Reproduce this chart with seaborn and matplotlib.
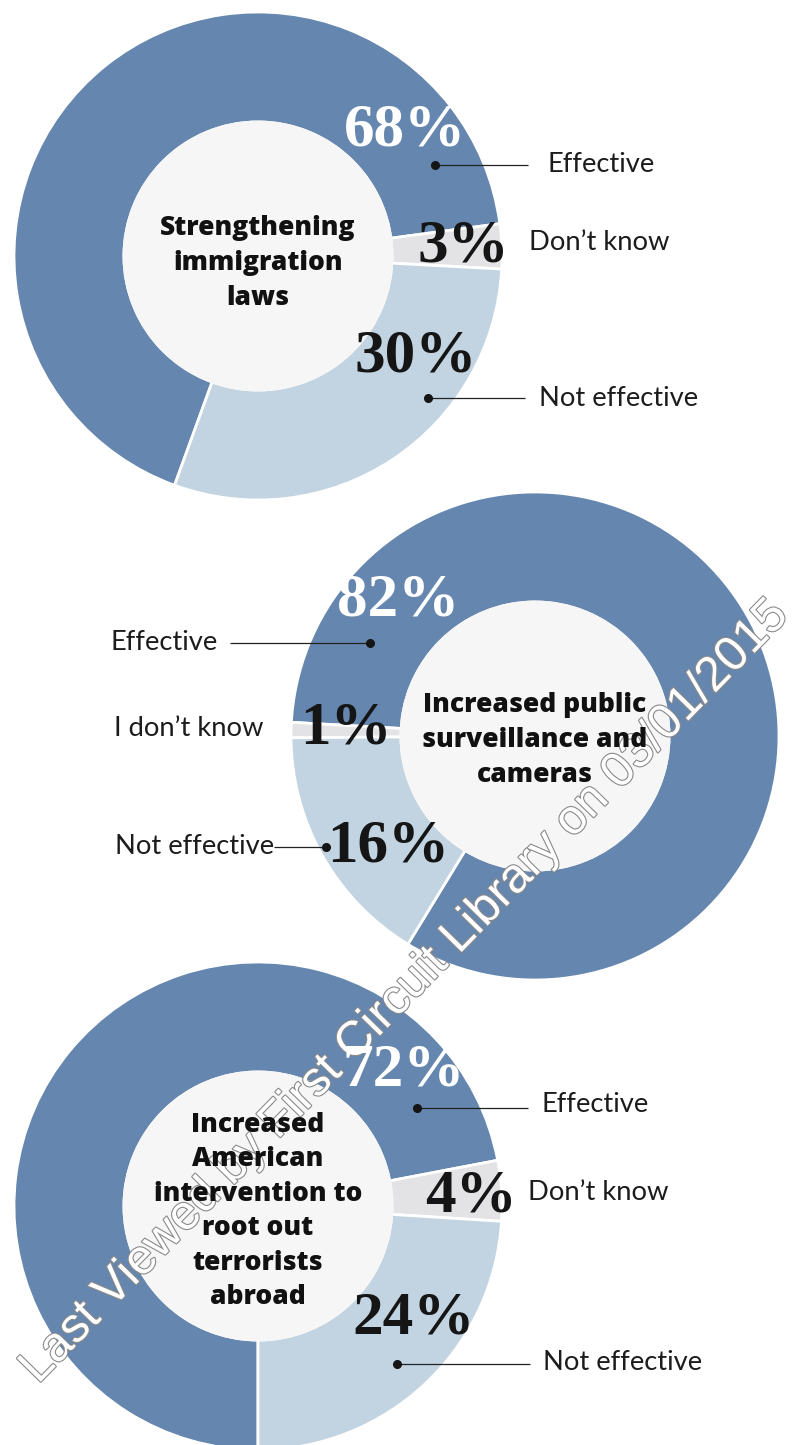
import matplotlib
matplotlib.use("Agg")
import matplotlib.pyplot as plt
import matplotlib.patheffects as pe
from matplotlib.patches import Circle
import seaborn as sns

# ---- survey data -------------------------------------------------------
categories = ["Effective", "Don't know", "Not effective"]
immigration = [68, 3, 30]
surveillance = [82, 1, 16]
intervention = [72, 4, 24]

titles = [
    "Strengthening\nimmigration\nlaws",
    "Increased public\nsurveillance and\ncameras",
    "Increased\nAmerican\nintervention to\nroot out\nterrorists\nabroad",
]
side_labels = [
    ["Effective", "Don\u2019t know", "Not effective"],
    ["Effective", "I don\u2019t know", "Not effective"],
    ["Effective", "Don\u2019t know", "Not effective"],
]
watermark = "Last Viewed by First Circuit Library on 03/01/2015"

# ---- style ----------------------------------------------------------------
sns.set_theme(style="white")
plt.rcParams["font.family"] = ["Lato", "DejaVu Sans"]

palette = ["#6586ae", "#e3e3e5", "#c2d4e1"]   # effective, don't know, not effective
hole_color = "#f6f6f6"

W, H = 796, 1445
fig = plt.figure(figsize=(W / 100, H / 100), dpi=100)
ax = fig.add_axes([0, 0, 1, 1])


def Y(y):
    """Convert a top-down pixel row to the upward data axis."""
    return H - y


R_OUT, R_IN = 244, 134

# per-chart layout: centre, start angle, direction, label anchors (pixel rows from top)
layouts = [
    dict(center=(258, 256), start=250, ccw=False,
         pct=[(405, 130), (463, 246), (416, 357)],
         pct_color=["white", "#151515", "#151515"],
         dots=[(435, 165), None, (428, 398)],
         line_end=[528, None, 525],
         text=[(548, 165, "left"), (529, 243, "left"), (539, 399, "left")],
         title_y=263),
    dict(center=(535, 736), start=238.6, ccw=True,
         pct=[(398, 601), (346, 729), (388, 847)],
         pct_color=["white", "#151515", "#151515"],
         dots=[(370, 643), None, (326, 847)],
         line_end=[230, None, 274],
         text=[(218, 642, "right"), (263, 729, "right"), (274, 847, "right")],
         title_y=740),
    dict(center=(258, 1206), start=270, ccw=False,
         pct=[(404, 1071), (471, 1196), (414, 1319)],
         pct_color=["white", "#151515", "#151515"],
         dots=[(417, 1108), None, (397, 1364)],
         line_end=[528, None, 530],
         text=[(541, 1105, "left"), (528, 1193, "left"), (543, 1362, "left")],
         title_y=1211),
]

datasets = [immigration, surveillance, intervention]

for values, lay, title, labels in zip(datasets, layouts, titles, side_labels):
    cx, cy = lay["center"]
    ax.pie(values, colors=palette, radius=R_OUT, center=(cx, Y(cy)),
           startangle=lay["start"], counterclock=lay["ccw"],
           wedgeprops=dict(width=R_OUT - R_IN, edgecolor="white", linewidth=2.0),
           frame=False)
    ax.add_patch(Circle((cx, Y(cy)), R_IN + 1.5, facecolor=hole_color,
                        edgecolor="none", zorder=3))
    ax.text(cx, Y(lay["title_y"]), title, ha="center", va="center",
            family=["Open Sans", "Lato", "DejaVu Sans"],
            fontsize=19, fontweight=800, color="#111111",
            linespacing=1.43, zorder=6)

    for i, v in enumerate(values):
        px, py = lay["pct"][i]
        ax.text(px, Y(py), f"{v}%", ha="center", va="center",
                family=["Liberation Serif", "DejaVu Serif"], fontweight="bold",
                fontsize=44, color=lay["pct_color"][i], zorder=6)
        dot = lay["dots"][i]
        if dot is not None:
            ax.plot([dot[0], lay["line_end"][i]], [Y(dot[1]), Y(dot[1])],
                    color="#222222", lw=0.9, zorder=6, solid_capstyle="butt")
            ax.plot(dot[0], Y(dot[1]), "o", ms=5.5, color="#151515", zorder=7)
        tx, ty, ha = lay["text"][i]
        ax.text(tx, Y(ty), labels[i], ha=ha, va="center", fontsize=19.7,
                color="#1c1c1c", zorder=6)

# diagonal outlined stamp across the page
ax.text(405, Y(992), watermark, rotation=45.6, rotation_mode="anchor",
        ha="center", va="center", family=["Liberation Sans", "DejaVu Sans"],
        fontsize=35, color="white", zorder=5,
        path_effects=[pe.Stroke(linewidth=1.6, foreground="#8a8a8a"), pe.Normal()])

ax.set_xlim(0, W)
ax.set_ylim(0, H)
ax.set_aspect("equal")
ax.axis("off")
fig.savefig("out.png", dpi=100, facecolor="white")
